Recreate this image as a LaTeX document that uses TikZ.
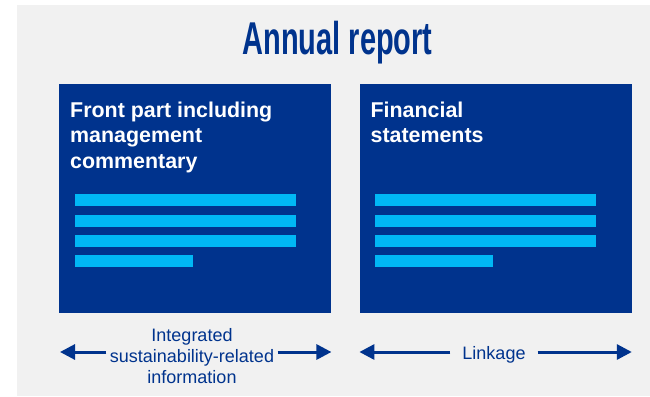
\documentclass[tikz,border=0pt]{standalone}
\usepackage{fontspec}
\usepackage{graphicx}
\setmainfont{Liberation Sans}
\usetikzlibrary{positioning, arrows.meta}
\definecolor{kblue}{HTML}{00338D}
\definecolor{klight}{HTML}{00B8F5}
\definecolor{kgray}{HTML}{F1F1F1}

\begin{document}
\begin{tikzpicture}[x=1pt, y=-1pt,
    part/.style={fill=kblue, minimum width=272pt, minimum height=229pt, inner sep=0pt},
    head/.style={text=white, font=\fontsize{21.4}{25.6}\selectfont\bfseries, align=left, inner sep=0pt},
    note/.style={text=kblue, font=\fontsize{18}{21}\selectfont, align=center},
    link/.style={draw=kblue, line width=3pt, -{Triangle[length=15pt, width=15pt]}}]
    \useasboundingbox (0,0) rectangle (650,396);
    \fill[kgray] (17,5) rectangle (650,396);

    \node[text=kblue, font=\fontsize{46}{50}\selectfont\bfseries, anchor=base] (title) at (337.5,55) {\scalebox{0.63}[1]{Annual report}};

    \node[part, anchor=north west] (front) at (59,84) {};
    \node[part, right=28pt of front] (fin) {};

    \node[head, below right=17.5pt and 11pt of front.north west] (fronttxt) {Front part including\\management\\commentary};
    \node[head, below right=17.5pt and 11pt of fin.north west] (fintxt) {Financial\\statements};

    % text lines in the boxes
    \foreach \b in {front, fin} {
      \foreach \y in {110,131,151}
        \fill[klight] ([shift={(16,\y)}]\b.north west) rectangle +(221,12);
      \fill[klight] ([shift={(16,171)}]\b.north west) rectangle +(118,12);
    }

    \coordinate (lane) at (0,352);
    \node[note] (integ) at (192,356) {Integrated\\sustainability-related\\information};
    \node[note, inner xsep=12pt] (linkage) at (494,355) {Linkage};

    \draw[link] (integ.west |- lane) -- ([xshift=1pt]front.south west |- lane);
    \draw[link] (integ.east |- lane) -- (front.south east |- lane);
    \draw[link] (linkage.west |- lane) -- (fin.south west |- lane);
    \draw[link] (linkage.east |- lane) -- (fin.south east |- lane);
\end{tikzpicture}
\end{document}
